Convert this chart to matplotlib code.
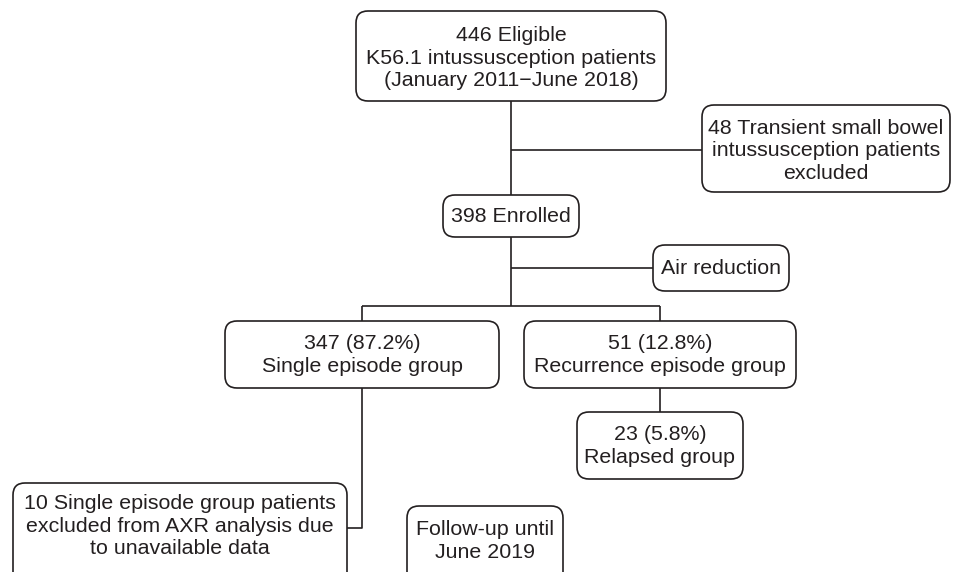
import matplotlib
matplotlib.use("Agg")
import matplotlib.pyplot as plt
from matplotlib.patches import FancyBboxPatch

plt.rcParams['font.family'] = ['Liberation Sans', 'DejaVu Sans']

#%% box texts
box_names = ["eligible", "excluded", "enrolled", "air", "single", "recur",
             "relapsed", "noaxr", "followup"]
box_texts = [
    "446 Eligible\nK56.1 intussusception patients\n(January 2011\u2212June 2018)",
    "48 Transient small bowel\nintussusception patients\nexcluded",
    "398 Enrolled",
    "Air reduction",
    "347 (87.2%)\nSingle episode group",
    "51 (12.8%)\nRecurrence episode group",
    "23 (5.8%)\nRelapsed group",
    "10 Single episode group patients\nexcluded from AXR analysis due\nto unavailable data",
    "Follow-up until\nJune 2019",
]

#%% layout in pixels (x0, y0, x1, y1), y from top
layout = {
    "eligible": (356, 11, 666, 101),
    "excluded": (702, 105, 950, 192),
    "enrolled": (443, 195, 579, 237),
    "air": (653, 245, 789, 291),
    "single": (225, 321, 499, 388),
    "recur": (524, 321, 796, 388),
    "relapsed": (577, 412, 743, 479),
    "noaxr": (13, 483, 347, 584),
    "followup": (407, 506, 563, 590),
}
text_y = {"eligible": 58, "excluded": 151, "noaxr": 526, "followup": 541,
          "single": 355, "recur": 355, "relapsed": 446}

W, H = 957, 572
fig = plt.figure(figsize=(W / 100, H / 100), dpi=100)
ax = fig.add_axes([0, 0, 1, 1])
ax.set_xlim(0, W)
ax.set_ylim(H, 0)
ax.axis('off')

col = '#231f20'
lw = 1.2

for name, txt in zip(box_names, box_texts):
    x0, y0, x1, y1 = layout[name]
    p = FancyBboxPatch((x0, y0), x1 - x0, y1 - y0,
                       boxstyle="round,pad=0,rounding_size=12",
                       fc='white', ec=col, lw=lw, zorder=2)
    ax.add_patch(p)
    ty = text_y.get(name, (y0 + y1) / 2)
    ax.text((x0 + x1) / 2, ty, txt, ha='center', va='center',
            fontsize=15.4, color=col, linespacing=1.26, zorder=3)

def line(xs, ys):
    ax.plot(xs, ys, color=col, lw=lw, zorder=1, solid_capstyle='butt')

# connectors
line([511, 511], [101, 195])
line([511, 702], [150, 150])
line([511, 511], [237, 306])
line([511, 653], [268, 268])
line([362, 660], [306, 306])
line([362, 362], [306, 321])
line([660, 660], [306, 321])
line([660, 660], [388, 412])
line([362, 362, 347], [388, 528, 528])

fig.savefig("out.png", dpi=100)
